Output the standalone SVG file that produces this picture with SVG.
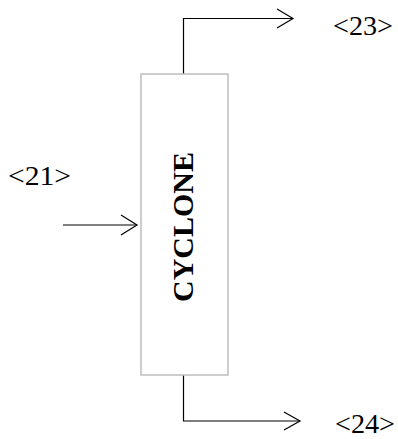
<svg xmlns="http://www.w3.org/2000/svg" width="398" height="439" viewBox="0 0 398 439">
<style>
.ln{fill:none;stroke:#000;stroke-width:1.2}
.lbl{font-family:"Liberation Serif","Times New Roman",serif;font-size:28px;fill:#000}
.box{fill:#fff;stroke:#bdbdbd;stroke-width:1.5}
.name{font-family:"Liberation Serif","Times New Roman",serif;font-size:30px;font-weight:bold;fill:#000}
</style>
<rect width="398" height="439" fill="#fff"/>
<g id="connectors">
<polyline class="ln" points="183.5,74 183.5,18.5 293,18.5"/>
<polyline class="ln" points="277,9 293,18.5 277,28"/>
<polyline class="ln" points="63,225 137,225"/>
<polyline class="ln" points="121,215 137,225 121,235"/>
<polyline class="ln" points="183.5,375 183.5,421 300,421"/>
<polyline class="ln" points="284,412 300,421 284,430"/>
</g>
<g id="cyclone">
<rect class="box" x="141" y="74" width="87" height="301"/>
<text class="name" transform="translate(193,227) rotate(-90)" text-anchor="middle">CYCLONE</text>
</g>
<g id="label21"><text class="lbl" x="8" y="185" textLength="63" lengthAdjust="spacingAndGlyphs">&lt;21&gt;</text></g>
<g id="label23"><text class="lbl" x="333" y="35" textLength="60" lengthAdjust="spacingAndGlyphs">&lt;23&gt;</text></g>
<g id="label24"><text class="lbl" x="335" y="433" textLength="60" lengthAdjust="spacingAndGlyphs">&lt;24&gt;</text></g>
</svg>
